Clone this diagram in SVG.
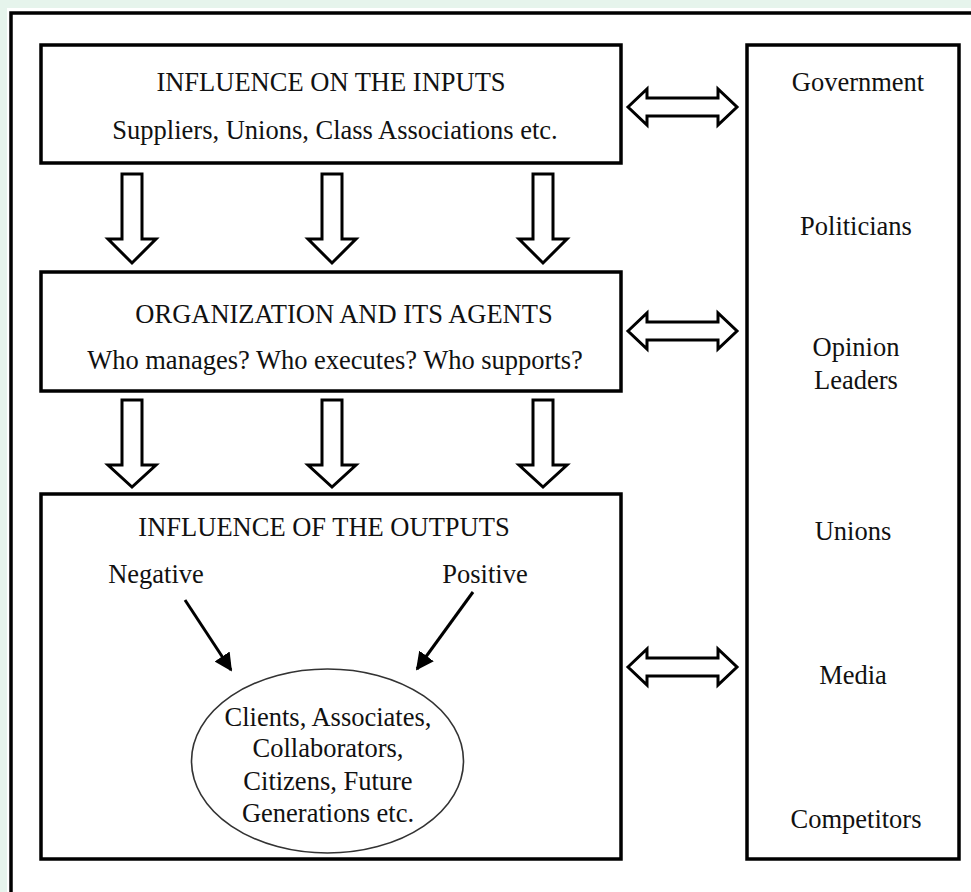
<svg xmlns="http://www.w3.org/2000/svg" width="971" height="892" viewBox="0 0 971 892">
  <style>
    .box { fill: #ffffff; stroke: #000000; stroke-width: 3.5; }
    .t { font-family: "Liberation Serif", "Times New Roman", serif; font-size: 26.5px; fill: #111111; text-anchor: middle; }
    .blk { fill: #ffffff; stroke: #000000; stroke-width: 3; stroke-linejoin: miter; }
    .ln { stroke: #000000; stroke-width: 3; fill: none; }
  </style>
  <defs>
    <marker id="ah" viewBox="0 0 10 10" refX="9" refY="5" markerWidth="6" markerHeight="6" markerUnits="strokeWidth" orient="auto">
      <path d="M0,0 L10,5 L0,10 Z" fill="#000000"/>
    </marker>
  </defs>
  <rect x="0" y="0" width="971" height="892" fill="#e6f4ec"/>
  <rect x="7" y="8" width="970" height="900" fill="#ffffff"/>
  <rect x="11" y="13" width="980" height="900" fill="none" stroke="#000000" stroke-width="3.5"/>

  <g id="inputs">
    <rect class="box" x="41" y="45" width="580" height="118"/>
    <text class="t" x="331" y="91">INFLUENCE ON THE INPUTS</text>
    <text class="t" x="335" y="139">Suppliers, Unions, Class Associations etc.</text>
  </g>
  <g id="organization">
    <rect class="box" x="41" y="272" width="580" height="119"/>
    <text class="t" x="344" y="323">ORGANIZATION AND ITS AGENTS</text>
    <text class="t" x="335" y="369">Who manages? Who executes? Who supports?</text>
  </g>
  <g id="outputs">
    <rect class="box" x="41" y="494" width="580" height="365"/>
    <text class="t" x="324" y="536">INFLUENCE OF THE OUTPUTS</text>
    <text class="t" x="156" y="583">Negative</text>
    <text class="t" x="485" y="583">Positive</text>
  </g>
  <g id="stakeholders">
    <ellipse cx="327.5" cy="761" rx="136" ry="92" fill="#ffffff" stroke="#333333" stroke-width="1.6"/>
    <text class="t" x="328" y="726">Clients, Associates,</text>
    <text class="t" x="328" y="757">Collaborators,</text>
    <text class="t" x="328" y="790">Citizens, Future</text>
    <text class="t" x="328" y="822">Generations etc.</text>
  </g>
  <g id="environment">
    <rect class="box" x="747" y="45" width="212" height="814"/>
    <text class="t" x="858" y="91">Government</text>
    <text class="t" x="856" y="235">Politicians</text>
    <text class="t" x="856" y="356">Opinion</text>
    <text class="t" x="856" y="389">Leaders</text>
    <text class="t" x="853" y="540">Unions</text>
    <text class="t" x="853" y="684">Media</text>
    <text class="t" x="856" y="828">Competitors</text>
  </g>

  <g id="connectors">
    <path class="blk" d="M122,174 H142 V239 H156 L132,263 L108,239 H122 Z"/>
    <path class="blk" d="M322,174 H342 V239 H356 L332,263 L308,239 H322 Z"/>
    <path class="blk" d="M533,174 H553 V239 H567 L543,263 L519,239 H533 Z"/>
    <path class="blk" d="M122,400 H142 V465 H156 L132,487 L108,465 H122 Z"/>
    <path class="blk" d="M322,400 H342 V465 H356 L332,487 L308,465 H322 Z"/>
    <path class="blk" d="M533,400 H553 V465 H567 L543,487 L519,465 H533 Z"/>
    <path class="blk" d="M628,107 L647,89 V98 H718 V89 L737,107 L718,125 V116 H647 V125 Z"/>
    <path class="blk" d="M628,331 L647,313 V322 H718 V313 L737,331 L718,349 V340 H647 V349 Z"/>
    <path class="blk" d="M628,667 L647,649 V658 H718 V649 L737,667 L718,685 V676 H647 V685 Z"/>
    <line class="ln" x1="185" y1="600" x2="231" y2="670" marker-end="url(#ah)"/>
    <line class="ln" x1="473" y1="592" x2="417" y2="669" marker-end="url(#ah)"/>
  </g>
</svg>
